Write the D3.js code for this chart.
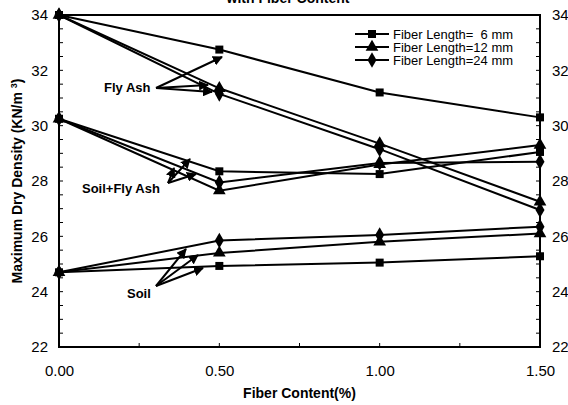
<!DOCTYPE html>
<html>
<head>
<meta charset="utf-8">
<script src="https://cdn.jsdelivr.net/npm/d3@7"></script>
<style>
  body { margin: 0; background: #fff; }
  text { font-family: "Liberation Sans", Arial, sans-serif; }
</style>
</head>
<body>
<div id="chart"></div>
<script>
// fiber content (%) on x
const fiberContent = [0, 0.5, 1.0, 1.5];

// maximum dry density (KN/m3), one array per mix & fiber length
const flyAsh6 = [34, 32.75, 31.2, 30.3];
const flyAsh12 = [34, 31.35, 29.35, 27.25];
const flyAsh24 = [34, 31.15, 29.15, 26.95];
const soilFly6 = [30.25, 28.35, 28.25, 29.05];
const soilFly12 = [30.25, 27.65, 28.6, 29.3];
const soilFly24 = [30.25, 27.95, 28.65, 28.7];
const soil6 = [24.7, 24.93, 25.05, 25.28];
const soil12 = [24.7, 25.4, 25.8, 26.1];
const soil24 = [24.7, 25.85, 26.05, 26.35];

const xTicks = [0, 0.5, 1.0, 1.5];
const yTicks = [22, 24, 26, 28, 30, 32, 34];
const legendLabels = ["Fiber Length=  6 mm", "Fiber Length=12 mm", "Fiber Length=24 mm"];

const width = 568, height = 405;
const margin = {top: 15, right: 28, bottom: 58, left: 59};

const svg = d3.select('#chart').append('svg')
    .attr('width', width)
    .attr('height', height);

const x = d3.scaleLinear().domain([0, 1.5]).range([margin.left, width - margin.right]);
const y = d3.scaleLinear().domain([22, 34]).range([height - margin.bottom, margin.top]);

// marker symbols: square, triangle, diamond
const symbols = [
    d3.symbol().type(d3.symbolSquare).size(64),
    d3.symbol().type(d3.symbolTriangle).size(70),
    d3.symbol().type(d3.symbolDiamond).size(70)
];

const series = [
    {vals: flyAsh6, m: 0}, {vals: flyAsh12, m: 1}, {vals: flyAsh24, m: 2},
    {vals: soilFly6, m: 0}, {vals: soilFly12, m: 1}, {vals: soilFly24, m: 2},
    {vals: soil6, m: 0}, {vals: soil12, m: 1}, {vals: soil24, m: 2}
];

// title, cut at the top edge like the source
svg.append('text')
    .attr('x', 288).attr('y', 3)
    .attr('text-anchor', 'middle')
    .attr('font-size', 14).attr('font-weight', 'bold')
    .text('with Fiber Content');

// axes
const yLeft = d3.axisLeft(y).tickValues(yTicks).tickSize(0).tickPadding(11).tickFormat(d3.format('d'));
const yRight = d3.axisRight(y).tickValues(yTicks).tickSize(0).tickPadding(12).tickFormat(d3.format('d'));
const xBottom = d3.axisBottom(x).tickValues(xTicks).tickSize(0).tickPadding(18).tickFormat(d3.format('.2f'));

const gl = svg.append('g').attr('transform', `translate(${margin.left},0)`).call(yLeft);
const gr = svg.append('g').attr('transform', `translate(${width - margin.right},0)`).call(yRight);
const gb = svg.append('g').attr('transform', `translate(0,${height - margin.bottom})`).call(xBottom);
[gl, gr, gb].forEach(g => {
    g.select('.domain').remove();
    g.selectAll('text').attr('font-size', 15).attr('fill', '#000')
        .style('font-family', '"Liberation Sans", Arial, sans-serif');
});

// inward minor ticks
const yMinor = d3.range(22.5, 34, 0.5);
svg.append('g').selectAll('line')
    .data(yMinor).enter().append('line')
    .attr('x1', margin.left).attr('x2', margin.left + 4)
    .attr('y1', d => y(d)).attr('y2', d => y(d))
    .attr('stroke', '#000').attr('stroke-width', 1);
svg.append('g').selectAll('line')
    .data(yMinor).enter().append('line')
    .attr('x1', width - margin.right).attr('x2', width - margin.right - 4)
    .attr('y1', d => y(d)).attr('y2', d => y(d))
    .attr('stroke', '#000').attr('stroke-width', 1);
svg.append('g').selectAll('line')
    .data([0.25, 0.5, 0.75, 1.0, 1.25]).enter().append('line')
    .attr('x1', d => x(d)).attr('x2', d => x(d))
    .attr('y1', height - margin.bottom).attr('y2', height - margin.bottom - 4)
    .attr('stroke', '#000').attr('stroke-width', 1);

// plot frame
svg.append('rect')
    .attr('x', margin.left).attr('y', margin.top)
    .attr('width', width - margin.left - margin.right)
    .attr('height', height - margin.top - margin.bottom)
    .attr('fill', 'none').attr('stroke', '#000').attr('stroke-width', 2);

// lines and markers
const line = d3.line()
    .x((d, i) => x(fiberContent[i]))
    .y(d => y(d));

const gs = svg.append('g');
series.forEach(s => {
    gs.append('path')
        .attr('d', line(s.vals))
        .attr('fill', 'none').attr('stroke', '#000').attr('stroke-width', 2);
});
series.forEach(s => {
    gs.selectAll(null)
        .data(s.vals).enter().append('path')
        .attr('d', symbols[s.m])
        .attr('transform', (d, i) => `translate(${x(fiberContent[i])},${y(d)})`)
        .attr('fill', '#000');
});

// legend
const legend = svg.append('g')
    .selectAll('g')
    .data(legendLabels).enter()
    .append('g')
    .attr('transform', (d, i) => `translate(355, ${34 + i * 13})`);
legend.append('line')
    .attr('x1', 0).attr('x2', 34)
    .attr('stroke', '#000').attr('stroke-width', 2);
legend.append('path')
    .attr('d', (d, i) => symbols[i]())
    .attr('transform', 'translate(17,0)');
legend.append('text')
    .attr('x', 38).attr('y', 4.5)
    .attr('font-size', 12)
    .attr('textLength', 120)
    .attr('lengthAdjust', 'spacingAndGlyphs')
    .style('white-space', 'pre')
    .text(d => d);

// annotation labels with arrows
svg.append('defs').append('marker')
    .attr('id', 'arr')
    .attr('viewBox', '0 0 10 10')
    .attr('refX', 9).attr('refY', 5)
    .attr('markerWidth', 5).attr('markerHeight', 5)
    .attr('orient', 'auto')
    .append('path').attr('d', 'M0,0 L10,5 L0,10 Z').attr('fill', '#000');

const notes = [
    {label: 'Fly Ash', tx: 104, ty: 92, from: [156, 88], to: [[222, 57], [208, 85], [212, 92]]},
    {label: 'Soil+Fly Ash', tx: 82, ty: 193, from: [168, 183], to: [[190, 159], [174, 168], [196, 174]]},
    {label: 'Soil', tx: 127, ty: 298, from: [156, 286], to: [[186, 249], [198, 255], [203, 268]]}
];
notes.forEach(n => {
    svg.append('text')
        .attr('x', n.tx).attr('y', n.ty)
        .attr('font-size', 13).attr('font-weight', 'bold')
        .text(n.label);
    n.to.forEach(t => {
        svg.append('line')
            .attr('x1', n.from[0]).attr('y1', n.from[1])
            .attr('x2', t[0]).attr('y2', t[1])
            .attr('stroke', '#000').attr('stroke-width', 2)
            .attr('marker-end', 'url(#arr)');
    });
});

// axis titles
svg.append('text')
    .attr('transform', `translate(22, ${(margin.top + height - margin.bottom) / 2}) rotate(-90)`)
    .attr('text-anchor', 'middle')
    .attr('font-size', 14).attr('font-weight', 'bold')
    .html('Maximum Dry Density (KN/m <tspan dy="-5" font-size="9">3</tspan><tspan dy="5">)</tspan>');

svg.append('text')
    .attr('x', (margin.left + width - margin.right) / 2).attr('y', 398)
    .attr('text-anchor', 'middle')
    .attr('font-size', 14).attr('font-weight', 'bold')
    .text('Fiber Content(%)');
</script>
</body>
</html>
